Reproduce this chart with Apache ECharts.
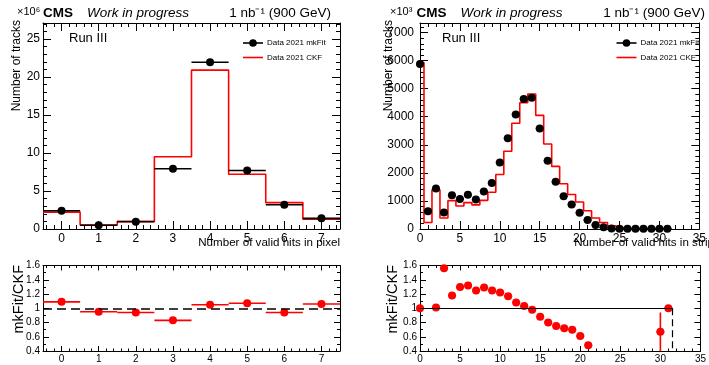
<!DOCTYPE html>
<html><head><meta charset="utf-8">
<script src="https://cdn.jsdelivr.net/npm/echarts@6/dist/echarts.min.js"></script>
<style>html,body{margin:0;padding:0;background:#fff}#c{width:709px;height:365px}</style>
</head><body><div id="c"></div>
<script>
// ---------------- data ----------------
const pixelBins  = [0, 1, 2, 3, 4, 5, 6, 7];
const pixelMkFit = [2.40, 0.50, 0.96, 7.92, 21.94, 7.70, 3.20, 1.40];   // x10^6 tracks
const pixelCKF   = [2.22, 0.53, 1.00, 9.50, 20.90, 7.20, 3.47, 1.28];   // x10^6 tracks
const pixelRatio = [1.09, 0.95, 0.94, 0.83, 1.05, 1.07, 0.94, 1.06];

const stripBins  = [0,1,2,3,4,5,6,7,8,9,10,11,12,13,14,15,16,17,18,19,20,21,22,23,24,25,26,27,28,29,30,31];
const stripMkFit = [5880,630,1440,590,1200,1070,1220,1050,1340,1640,2370,3230,4080,4630,4680,3580,
                    2430,1680,1170,870,580,320,140,60,20,10,10,10,10,10,10,10];          // x10^3 tracks
const stripCKF   = [5930,230,1400,390,1010,820,940,860,1020,1310,1940,2770,3770,4500,4810,4050,
                    3030,2230,1610,1230,960,650,390,230,110,50,20,20,20,20,15,10];       // x10^3 tracks
const stripRatio = [1.00,null,1.01,1.56,1.18,1.30,1.32,1.25,1.29,1.25,1.22,1.17,1.08,1.03,0.98,0.88,
                    0.80,0.75,0.72,0.70,0.61,0.48,null,null,null,null,null,null,null,null,0.67,1.00];
const stripRatioErr = [0,0,0,0,0,0,0,0,0,0,0,0,0,0,0,0,0,0,0,0,0,0,0,0,0,0,0,0,0,0,0.27,0];

const pixelTickLabels = [0, 1, 2, 3, 4, 5, 6, 7];
const ratioRef = 1;
const stripLastEdge = 31.5;
const ratioMin = 0.4;

const pixelTitle = 'Number of valid hits in pixel';
const stripTitle = 'Number of valid hits in strip';

// ---------------- helpers ----------------
const FONT = "'Liberation Sans', Arial, Helvetica, sans-serif";
const RED = '#ff0000';
const pixelMinorTicks = [];
for (let k = 0; k < 40; k++) { const v = Math.round((-0.4 + 0.2 * k) * 10) / 10; if (v < 7.5 && Math.abs(v - Math.round(v)) > 1e-6) pixelMinorTicks.push(v); }

function stepData(bins, vals) {
  return bins.flatMap((b, i) => [[b - 0.5, vals[i]], [b + 0.5, vals[i]]]);
}
function pts(bins, vals) {
  return bins.map((b, i) => [b, vals[i]]).filter(d => d[1] != null);
}
function errBars(bins, vals, errs, color, xi, yi, lw) {
  return {
    type: 'custom', xAxisIndex: xi, yAxisIndex: yi, clip: true, z: 3, silent: true,
    data: bins.map((b, i) => [b, vals[i], errs ? errs[i] : 0]).filter(d => d[1] != null),
    renderItem: (params, api) => {
      const x = api.value(0), y = api.value(1), e = api.value(2);
      const a = api.coord([x - 0.5, y]), b = api.coord([x + 0.5, y]);
      const ch = [{ type: 'line', shape: { x1: a[0], y1: a[1], x2: b[0], y2: b[1] }, style: { stroke: color, lineWidth: lw } }];
      if (e > 0) {
        const t = api.coord([x, y + e]), u = api.coord([x, y - e]);
        ch.push({ type: 'line', shape: { x1: t[0], y1: t[1], x2: u[0], y2: u[1] }, style: { stroke: color, lineWidth: lw } });
      }
      return { type: 'group', children: ch };
    }
  };
}
function plainNum(v) { return String(Math.round(v * 1000) / 1000); }
function axis(grid, o) {
  const tick = { show: true, inside: true, length: o.tick, lineStyle: { color: '#000', width: 1 } };
  if (o.tickValues) tick.customValues = o.tickValues;
  const label = o.labels ? {
    show: true, color: '#000', fontFamily: FONT, fontSize: o.fontSize, margin: o.margin,
    showMinLabel: o.showMin !== false, showMaxLabel: o.showMax !== false, formatter: plainNum
  } : { show: false };
  if (o.labels && o.labelValues) label.customValues = o.labelValues;
  return {
    type: 'value', gridIndex: grid, min: o.min, max: o.max, interval: o.interval,
    position: o.position,
    axisLine: { show: o.noLine ? false : true, onZero: false, lineStyle: { color: '#000', width: 1 } },
    axisTick: tick,
    minorTick: { show: !!o.minor, splitNumber: o.minor || 5, length: o.minorLen || 3, lineStyle: { color: '#000', width: 1 } },
    splitLine: { show: false }, minorSplitLine: { show: false },
    axisLabel: label
  };
}

const G = [
  { left: 43,  top: 23,    width: 297,   height: 206 },
  { left: 420, top: 23,    width: 289.5, height: 206 },
  { left: 43,  top: 265.5, width: 297,   height: 85.5 },
  { left: 420, top: 265.5, width: 289.5, height: 85.5 }
];

const PX = { min: -0.5, max: 7.5, interval: 1 };
const xAxes = [
  // 0,1 : pixel top (bottom, top) majors
  axis(0, Object.assign({ position: 'bottom', tick: 8, tickValues: pixelTickLabels, labels: true, labelValues: pixelTickLabels, fontSize: 12, margin: 4 }, PX)),
  axis(0, Object.assign({ position: 'top', tick: 8, tickValues: pixelTickLabels, labels: false }, PX)),
  // 2,3 : strip top
  axis(1, { min: 0, max: 35, interval: 5, position: 'bottom', tick: 8, minor: 5, minorLen: 4, labels: true, fontSize: 12, margin: 4 }),
  axis(1, { min: 0, max: 35, interval: 5, position: 'top', tick: 8, minor: 5, minorLen: 4, labels: false }),
  // 4,5 : pixel ratio majors
  axis(2, Object.assign({ position: 'bottom', tick: 5, tickValues: pixelTickLabels, labels: true, labelValues: pixelTickLabels, fontSize: 10, margin: 3 }, PX)),
  axis(2, Object.assign({ position: 'top', tick: 5, tickValues: pixelTickLabels, labels: false }, PX)),
  // 6,7 : strip ratio
  axis(3, { min: 0, max: 35, interval: 5, position: 'bottom', tick: 5, minor: 5, minorLen: 2.5, labels: true, fontSize: 10, margin: 3 }),
  axis(3, { min: 0, max: 35, interval: 5, position: 'top', tick: 5, minor: 5, minorLen: 2.5, labels: false }),
  // 8-11 : pixel minor ticks
  axis(0, Object.assign({ position: 'bottom', tick: 4, tickValues: pixelMinorTicks, labels: false, noLine: true }, PX)),
  axis(0, Object.assign({ position: 'top', tick: 4, tickValues: pixelMinorTicks, labels: false, noLine: true }, PX)),
  axis(2, Object.assign({ position: 'bottom', tick: 2.5, tickValues: pixelMinorTicks, labels: false, noLine: true }, PX)),
  axis(2, Object.assign({ position: 'top', tick: 2.5, tickValues: pixelMinorTicks, labels: false, noLine: true }, PX))
];
const yAxes = [
  axis(0, { min: 0, max: 27.1, interval: 5, position: 'left', tick: 8, minor: 5, minorLen: 4, labels: true, fontSize: 12, margin: 3, showMax: false }),
  axis(0, { min: 0, max: 27.1, interval: 5, position: 'right', tick: 8, minor: 5, minorLen: 4, labels: false }),
  axis(1, { min: 0, max: 7340, interval: 1000, position: 'left', tick: 8, minor: 5, minorLen: 4, labels: true, fontSize: 12, margin: 6, showMax: false }),
  axis(1, { min: 0, max: 7340, interval: 1000, position: 'right', tick: 8, minor: 5, minorLen: 4, labels: false }),
  axis(2, { min: 0.4, max: 1.6, interval: 0.2, position: 'left', tick: 6, minor: 2, minorLen: 3, labels: true, fontSize: 10, margin: 3 }),
  axis(2, { min: 0.4, max: 1.6, interval: 0.2, position: 'right', tick: 6, minor: 2, minorLen: 3, labels: false }),
  axis(3, { min: 0.4, max: 1.6, interval: 0.2, position: 'left', tick: 6, minor: 2, minorLen: 3, labels: true, fontSize: 10, margin: 3 }),
  axis(3, { min: 0.4, max: 1.6, interval: 0.2, position: 'right', tick: 6, minor: 2, minorLen: 3, labels: false })
];

const dot = (color) => ({ color: color, opacity: 1 });
const series = [
  // pixel top
  { type: 'line', xAxisIndex: 0, yAxisIndex: 0, data: stepData(pixelBins, pixelCKF), showSymbol: false, symbol: 'none',
    lineStyle: { color: RED, width: 1.6 }, z: 2, silent: true },
  errBars(pixelBins, pixelMkFit, null, '#000', 0, 0, 1.6),
  { type: 'scatter', xAxisIndex: 0, yAxisIndex: 0, data: pts(pixelBins, pixelMkFit), symbolSize: 8,
    itemStyle: dot('#000'), z: 4, silent: true },
  // strip top
  { type: 'line', xAxisIndex: 2, yAxisIndex: 2, data: stepData(stripBins, stripCKF), showSymbol: false, symbol: 'none',
    lineStyle: { color: RED, width: 1.6 }, z: 2, silent: true },
  errBars(stripBins, stripMkFit, null, '#000', 2, 2, 1.6),
  { type: 'scatter', xAxisIndex: 2, yAxisIndex: 2, data: pts(stripBins, stripMkFit), symbolSize: 8,
    itemStyle: dot('#000'), z: 4, silent: true },
  // pixel ratio
  errBars(pixelBins, pixelRatio, null, RED, 4, 4, 1.6),
  { type: 'scatter', xAxisIndex: 4, yAxisIndex: 4, data: pts(pixelBins, pixelRatio), symbolSize: 8,
    itemStyle: dot(RED), z: 4, silent: true,
    markLine: { silent: true, symbol: 'none', label: { show: false }, animation: false,
      lineStyle: { color: '#000', type: [9, 5], width: 1.5, opacity: 1 }, data: [{ yAxis: ratioRef }] } },
  // strip ratio
  errBars(stripBins, stripRatio, stripRatioErr, RED, 6, 6, 1.6),
  { type: 'scatter', xAxisIndex: 6, yAxisIndex: 6, data: pts(stripBins, stripRatio), symbolSize: 8,
    itemStyle: dot(RED), z: 4, silent: true,
    markLine: { silent: true, symbol: 'none', label: { show: false }, animation: false,
      lineStyle: { color: '#000', width: 1.2, opacity: 1 },
      data: [
        [{ coord: [0, ratioRef], lineStyle: { type: 'solid' } }, { coord: [stripLastEdge, ratioRef] }],
        [{ coord: [stripLastEdge, ratioRef], lineStyle: { type: [7, 4] } }, { coord: [stripLastEdge, ratioMin] }]
      ] } }
];

function txt(x, y, text, o) {
  return Object.assign({ type: 'text', x: x, y: y, silent: true,
    style: Object.assign({ text: text, fill: '#000', font: '12px ' + FONT,
      align: 'left', verticalAlign: 'middle' }, o.style || {}) }, o.extra || {});
}
function header(off, right) {
  return [
    txt(off, 13, 'CMS', { style: { font: 'bold 13.5px ' + FONT } }),
    txt(off + 44, 13, 'Work in progress', { style: { font: 'italic 13.5px ' + FONT } }),
    txt(right, 13, '1 nb⁻¹ (900 GeV)', { style: { font: '13.5px ' + FONT, align: 'right' } })
  ];
}
function legend(x, y1, y2) {
  return [
    { type: 'line', silent: true, shape: { x1: x, y1: y1, x2: x + 20, y2: y1 }, style: { stroke: '#000', lineWidth: 1.6 } },
    { type: 'circle', silent: true, shape: { cx: x + 10, cy: y1, r: 3.8 }, style: { fill: '#000' } },
    txt(x + 24, y1, 'Data 2021 mkFit', { style: { font: '8px ' + FONT } }),
    { type: 'line', silent: true, shape: { x1: x, y1: y2, x2: x + 20, y2: y2 }, style: { stroke: RED, lineWidth: 1.6 } },
    txt(x + 24, y2, 'Data 2021 CKF', { style: { font: '8px ' + FONT } })
  ];
}

const graphics = [].concat(
  header(43, 331), header(416.5, 705),
  [
    txt(17, 12, '×10⁶', { style: { font: '11px ' + FONT } }),
    txt(390, 12, '×10³', { style: { font: '11px ' + FONT } }),
    txt(69, 38, 'Run III', { style: { font: '13px ' + FONT } }),
    txt(442, 38, 'Run III', { style: { font: '13px ' + FONT } }),
    txt(17, 20, 'Number of tracks', { style: { font: '12px ' + FONT, align: 'right' }, extra: { rotation: Math.PI / 2 } }),
    txt(389, 20, 'Number of tracks', { style: { font: '12px ' + FONT, align: 'right' }, extra: { rotation: Math.PI / 2 } }),
    txt(19, 265, 'mkFit/CKF', { style: { font: '14.5px ' + FONT, align: 'right' }, extra: { rotation: Math.PI / 2 } }),
    txt(393, 265, 'mkFit/CKF', { style: { font: '14.5px ' + FONT, align: 'right' }, extra: { rotation: Math.PI / 2 } }),
    txt(340, 243, pixelTitle, { style: { font: '11.6px ' + FONT, align: 'right' } }),
    txt(714, 243, stripTitle, { style: { font: '11.6px ' + FONT, align: 'right' } })
  ],
  legend(243, 43, 57.5), legend(616.5, 43, 57.5)
);

const chart = echarts.init(document.getElementById('c'), null, { renderer: 'canvas' });
chart.setOption({
  animation: false,
  backgroundColor: '#fff',
  textStyle: { fontFamily: FONT },
  grid: G,
  xAxis: xAxes,
  yAxis: yAxes,
  series: series,
  graphic: graphics
});
</script></body></html>
